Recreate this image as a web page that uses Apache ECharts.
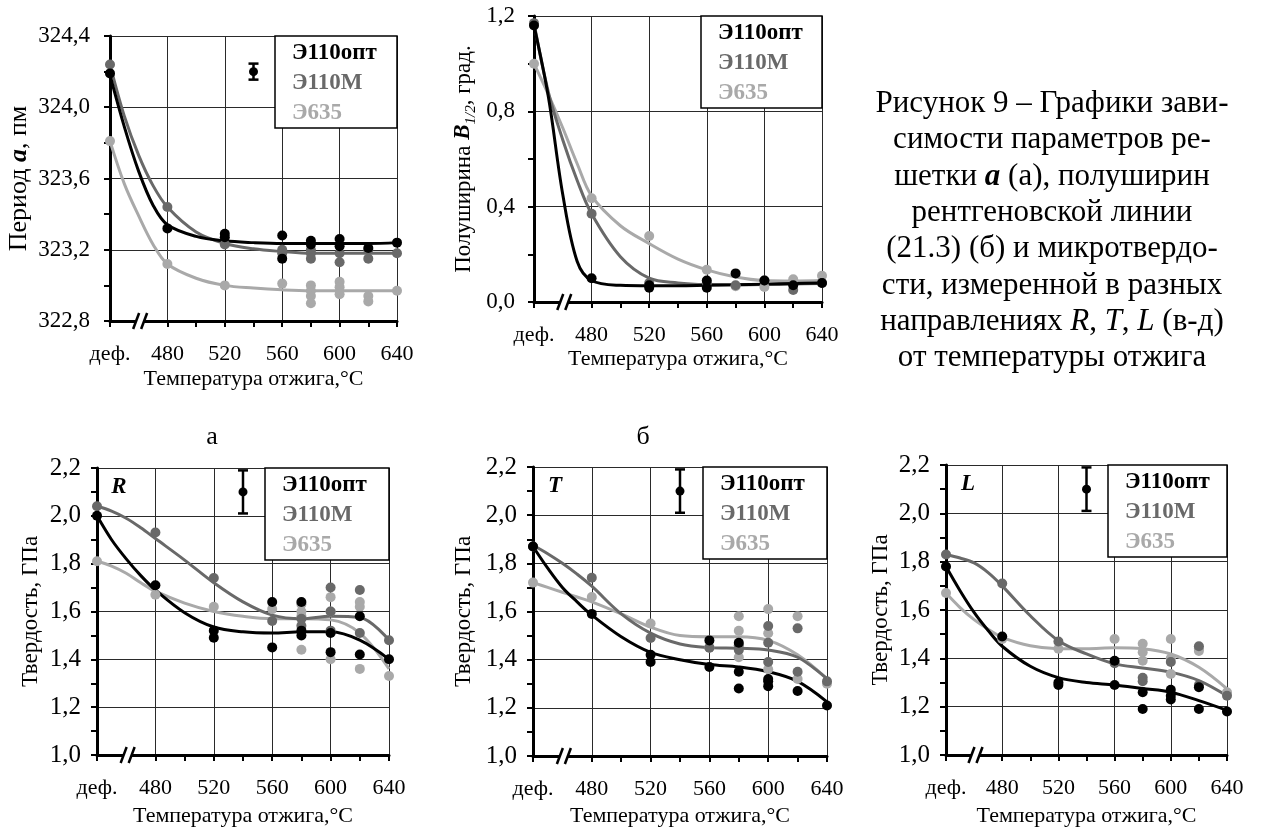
<!DOCTYPE html>
<html><head><meta charset="utf-8">
<script src="https://cdn.jsdelivr.net/npm/echarts@6/dist/echarts.min.js"></script>
<style>html,body{margin:0;padding:0;background:#fff}#c{width:1262px;height:828px}</style>
</head><body><div id="c"></div>
<script>
// ---------------- DATA ----------------
const seriesNames = ['Э110опт', 'Э110М', 'Э635'];
const xTickLabels = ['деф.', '480', '520', '560', '600', '640'];
const xCurve = [440, 450, 460, 470, 480, 500, 520, 540, 560, 580, 600, 620, 640];

// (а) lattice period a, pm
const aPtsBlack = [[440,324.19],[480,323.32],[520,323.29],[520,323.27],[560,323.28],[560,323.15],[580,323.25],[580,323.23],[600,323.26],[600,323.22],[620,323.21],[640,323.24]];
const aPtsGrey = [[440,324.24],[480,323.44],[520,323.23],[560,323.20],[560,323.18],[580,323.20],[580,323.18],[580,323.15],[600,323.18],[600,323.13],[620,323.20],[620,323.15],[640,323.18]];
const aPtsLight = [[440,323.81],[480,323.12],[520,323.00],[560,323.01],[580,323.00],[580,322.97],[580,322.94],[580,322.90],[600,323.02],[600,322.99],[600,322.95],[620,322.94],[620,322.91],[640,322.97]];
const aCurveBlack = [324.18,323.89,323.64,323.45,323.34,323.275,323.25,323.24,323.235,323.235,323.235,323.235,323.24];
const aCurveGrey = [324.24,323.95,323.73,323.56,323.44,323.30,323.235,323.205,323.19,323.18,323.18,323.18,323.18];
const aCurveLight = [323.81,323.57,323.39,323.23,323.12,323.04,323.00,322.985,322.975,322.97,322.97,322.97,322.97];
const aErr = [[540, 324.2, 0.045]];

// (б) half-width B1/2, deg
const bPtsBlack = [[440,1.16],[480,0.10],[520,0.07],[520,0.06],[560,0.09],[560,0.06],[580,0.12],[600,0.09],[620,0.07],[640,0.08]];
const bPtsGrey = [[440,1.17],[480,0.37],[520,0.08],[560,0.08],[580,0.07],[600,0.09],[620,0.05],[640,0.08]];
const bPtsLight = [[440,1.00],[480,0.435],[520,0.277],[560,0.135],[580,0.066],[600,0.063],[620,0.095],[640,0.11]];
const bCurveBlack = [1.16,0.86,0.45,0.17,0.09,0.07,0.068,0.068,0.07,0.072,0.075,0.078,0.08];
const bCurveGrey = [1.17,0.88,0.68,0.51,0.37,0.19,0.10,0.08,0.073,0.072,0.073,0.075,0.078];
const bCurveLight = [1.00,0.87,0.73,0.58,0.445,0.32,0.245,0.18,0.135,0.105,0.09,0.088,0.09];

// (в) hardness R
const rPtsBlack = [[440,2.00],[480,1.71],[520,1.52],[520,1.49],[560,1.64],[560,1.45],[580,1.64],[580,1.52],[580,1.50],[600,1.51],[600,1.43],[620,1.58],[620,1.42],[640,1.40]];
const rPtsGrey = [[440,2.04],[480,1.93],[520,1.74],[560,1.56],[580,1.57],[580,1.54],[600,1.70],[600,1.60],[600,1.52],[620,1.69],[620,1.51],[640,1.48]];
const rPtsLight = [[440,1.81],[480,1.67],[520,1.62],[560,1.61],[580,1.63],[580,1.60],[580,1.58],[580,1.44],[600,1.66],[600,1.60],[600,1.40],[620,1.64],[620,1.62],[620,1.36],[640,1.33]];
const rCurveBlack = [2.00,1.90,1.82,1.75,1.69,1.595,1.535,1.515,1.51,1.515,1.515,1.48,1.40];
const rCurveGrey = [2.04,2.02,1.99,1.95,1.905,1.815,1.72,1.64,1.585,1.57,1.58,1.575,1.48];
const rCurveLight = [1.81,1.79,1.76,1.72,1.685,1.635,1.60,1.58,1.57,1.57,1.565,1.51,1.36];

// (г) hardness T
const tPtsBlack = [[440,1.87],[480,1.59],[520,1.42],[520,1.39],[560,1.48],[560,1.37],[580,1.47],[580,1.35],[580,1.28],[600,1.32],[600,1.31],[600,1.29],[620,1.27],[640,1.21]];
const tPtsGrey = [[440,1.87],[480,1.74],[520,1.49],[560,1.45],[580,1.46],[580,1.44],[600,1.54],[600,1.47],[600,1.39],[620,1.53],[620,1.35],[640,1.31]];
const tPtsLight = [[440,1.72],[480,1.66],[520,1.55],[560,1.45],[580,1.58],[580,1.52],[580,1.41],[600,1.61],[600,1.51],[600,1.36],[620,1.58],[620,1.32],[640,1.30]];
const tCurveBlack = [1.87,1.78,1.70,1.64,1.585,1.495,1.43,1.40,1.38,1.37,1.35,1.31,1.225];
const tCurveGrey = [1.875,1.84,1.80,1.755,1.705,1.59,1.51,1.465,1.45,1.447,1.44,1.41,1.32];
const tCurveLight = [1.72,1.70,1.68,1.66,1.64,1.59,1.535,1.50,1.495,1.495,1.48,1.42,1.32];

// (д) hardness L
const lPtsBlack = [[440,1.78],[480,1.49],[520,1.30],[520,1.29],[560,1.39],[560,1.29],[580,1.26],[580,1.19],[600,1.27],[600,1.245],[600,1.23],[620,1.28],[620,1.19],[640,1.18]];
const lPtsGrey = [[440,1.83],[480,1.71],[520,1.47],[560,1.38],[580,1.32],[580,1.305],[600,1.385],[620,1.45],[620,1.29],[640,1.245]];
const lPtsLight = [[440,1.67],[480,1.48],[520,1.44],[560,1.48],[580,1.46],[580,1.425],[580,1.39],[600,1.48],[600,1.40],[600,1.335],[620,1.44],[620,1.43],[640,1.26]];
const lCurveBlack = [1.78,1.68,1.59,1.515,1.45,1.367,1.32,1.30,1.29,1.275,1.26,1.225,1.185];
const lCurveGrey = [1.83,1.815,1.795,1.755,1.70,1.576,1.473,1.418,1.377,1.36,1.343,1.308,1.245];
const lCurveLight = [1.67,1.61,1.56,1.52,1.487,1.452,1.44,1.44,1.444,1.44,1.418,1.363,1.274];

const hardErr = [[540, 2.1, 0.09]];

const captionLines = [
  'Рисунок 9 – Графики зави-',
  'симости параметров ре-',
  'шетки {bi|a} (а), полуширин',
  'рентгеновской линии',
  '(21.3) (б) и микротвердо-',
  'сти, измеренной в разных',
  'направлениях {i|R}, {i|T}, {i|L} (в-д)',
  'от температуры отжига'
];

// ---------------- LAYOUT / STYLE ----------------
const FONT = '"Liberation Serif", "Times New Roman", serif';
const COLORS = ['#000000', '#696969', '#a9a9a9'];
const panels = [
  {left:110, top:36, width:287, height:285, ymin:322.8, ymax:324.4, yint:0.4, yFont:23, yMargin:20, yGap:78, yNameSize:26, xGap:47,
   yName:'{n|Период }{b|a}{n|, пм}', pts:[aPtsBlack,aPtsGrey,aPtsLight], curves:[aCurveBlack,aCurveGrey,aCurveLight], err:aErr, legW:122, tag:null},
  {left:534, top:16, width:288, height:286, ymin:0, ymax:1.2, yint:0.4, yFont:23, yMargin:19, yGap:59, yNameSize:23, xGap:46,
   yName:'{n|Полуширина }{b|B}{s|1/2}{n|, град.}', pts:[bPtsBlack,bPtsGrey,bPtsLight], curves:[bCurveBlack,bCurveGrey,bCurveLight], err:null, legW:121, tag:null},
  {left:97, top:468, width:292, height:287, ymin:1.0, ymax:2.2, yint:0.2, yFont:25, yMargin:16, yGap:55, yNameSize:23, xGap:50,
   yName:'{n|Твердость, ГПа}', pts:[rPtsBlack,rPtsGrey,rPtsLight], curves:[rCurveBlack,rCurveGrey,rCurveLight], err:hardErr, legW:124, tag:'R'},
  {left:533, top:467, width:294, height:289, ymin:1.0, ymax:2.2, yint:0.2, yFont:25, yMargin:16, yGap:58, yNameSize:23, xGap:49,
   yName:'{n|Твердость, ГПа}', pts:[tPtsBlack,tPtsGrey,tPtsLight], curves:[tCurveBlack,tCurveGrey,tCurveLight], err:hardErr, legW:124, tag:'T'},
  {left:946, top:465, width:281, height:291, ymin:1.0, ymax:2.2, yint:0.2, yFont:25, yMargin:16, yGap:54, yNameSize:23, xGap:50,
   yName:'{n|Твердость, ГПа}', pts:[lPtsBlack,lPtsGrey,lPtsLight], curves:[lCurveBlack,lCurveGrey,lCurveLight], err:hardErr, legW:119, tag:'L'}
];
const BREAK_X = 461;

const chart = echarts.init(document.getElementById('c'), null, {renderer:'canvas'});

const grids = [], xAxes = [], yAxes = [], series = [], graphics = [];

function breakRender(params, api) {
  const p = api.coord([api.value(0), api.value(1)]);
  const x = p[0], y = p[1];
  return {type:'group', children:[
    {type:'polygon', shape:{points:[[x-7,y+8],[x-1,y-8],[x+7,y-8],[x+1,y+8]]}, style:{fill:'#fff'}},
    {type:'line', shape:{x1:x-7,y1:y+8,x2:x-1,y2:y-8}, style:{stroke:'#000', lineWidth:2.5}},
    {type:'line', shape:{x1:x+1,y1:y+8,x2:x+7,y2:y-8}, style:{stroke:'#000', lineWidth:2.5}}
  ]};
}
function errRender(params, api) {
  const c = api.coord([api.value(0), api.value(1)]);
  const t = api.coord([api.value(0), api.value(1) + api.value(2)]);
  const b = api.coord([api.value(0), api.value(1) - api.value(2)]);
  const st = {stroke:'#000', lineWidth:2.5};
  return {type:'group', children:[
    {type:'line', shape:{x1:c[0],y1:t[1],x2:c[0],y2:b[1]}, style:st},
    {type:'line', shape:{x1:c[0]-5,y1:t[1],x2:c[0]+5,y2:t[1]}, style:st},
    {type:'line', shape:{x1:c[0]-5,y1:b[1],x2:c[0]+5,y2:b[1]}, style:st},
    {type:'circle', shape:{cx:c[0],cy:c[1],r:4.5}, style:{fill:'#000'}}
  ]};
}

panels.forEach((p, i) => {
  grids.push({left:p.left, top:p.top, width:p.width, height:p.height, containLabel:false});
  xAxes.push({
    type:'value', gridIndex:i, min:440, max:640, interval:40,
    axisLine:{show:true, onZero:false, lineStyle:{color:'#000', width:3}},
    axisTick:{show:true, inside:false, length:6, lineStyle:{color:'#000', width:2}},
    minorTick:{show:true, splitNumber:2, length:6, lineStyle:{color:'#000', width:2}},
    splitLine:{show:true, lineStyle:{color:'#2a2a2a', width:1}},
    axisLabel:{formatter:v => xTickLabels[Math.round((v - 440) / 40)], fontFamily:FONT, fontSize:22, color:'#000', margin:22},
    name:'Температура отжига,°C', nameLocation:'middle', nameGap:p.xGap,
    nameTextStyle:{fontFamily:FONT, fontSize:22, color:'#000'}
  });
  const ns = p.yNameSize;
  yAxes.push({
    type:'value', gridIndex:i, min:p.ymin, max:p.ymax, interval:p.yint,
    axisLine:{show:true, onZero:false, lineStyle:{color:'#000', width:3}},
    axisTick:{show:true, inside:false, length:6, lineStyle:{color:'#000', width:2}},
    minorTick:{show:true, splitNumber:2, length:6, lineStyle:{color:'#000', width:2}},
    splitLine:{show:true, lineStyle:{color:'#2a2a2a', width:1}},
    axisLabel:{formatter:v => v.toFixed(1).replace('.', ','), fontFamily:FONT, fontSize:p.yFont, color:'#000', margin:p.yMargin},
    name:p.yName, nameLocation:'middle', nameGap:p.yGap,
    nameTextStyle:{fontFamily:FONT, fontSize:ns, color:'#000',
      rich:{
        n:{fontFamily:FONT, fontSize:ns, color:'#000', lineHeight:28, verticalAlign:'bottom'},
        b:{fontFamily:FONT, fontSize:ns, fontWeight:'bold', fontStyle:'italic', color:'#000', lineHeight:28, verticalAlign:'bottom'},
        s:{fontFamily:FONT, fontSize:15, fontStyle:'italic', color:'#000', lineHeight:28, verticalAlign:'bottom', padding:[0,0,-4,0]}
      }}
  });
  // curves (light first, black on top)
  [2, 1, 0].forEach(k => {
    series.push({
      type:'line', name:seriesNames[k], xAxisIndex:i, yAxisIndex:i,
      data:xCurve.map((x, j) => [x, p.curves[k][j]]),
      smooth:0.35, showSymbol:false, symbol:'none', silent:true,
      lineStyle:{color:COLORS[k], width:3}, z:2
    });
  });
  [2, 1, 0].forEach(k => {
    series.push({
      type:'scatter', name:seriesNames[k], xAxisIndex:i, yAxisIndex:i,
      data:p.pts[k], symbol:'circle', symbolSize:10, silent:true,
      itemStyle:{color:COLORS[k], opacity:1}, z:3
    });
  });
  series.push({type:'custom', xAxisIndex:i, yAxisIndex:i, data:[[BREAK_X, p.ymin]], renderItem:breakRender, clip:false, silent:true, z:5});
  if (p.err) series.push({type:'custom', xAxisIndex:i, yAxisIndex:i, data:p.err, renderItem:errRender, clip:false, silent:true, z:5});

  // legend box
  const lx = p.left + p.width - p.legW, ly = p.top;
  graphics.push({type:'rect', z:100, shape:{x:lx, y:ly, width:p.legW, height:92}, style:{fill:'#fff', stroke:'#000', lineWidth:1.5}});
  seriesNames.forEach((nm, k) => {
    graphics.push({type:'text', z:101, x:lx + 17, y:ly + 17 + k * 30,
      style:{text:nm, font:'bold 23px ' + FONT, fill:COLORS[k], textVerticalAlign:'middle', textAlign:'left'}});
  });
  if (p.tag) {
    graphics.push({type:'text', z:101, x:p.left + 22, y:p.top + 19,
      style:{text:p.tag, font:'italic bold 23px ' + FONT, fill:'#000', textVerticalAlign:'middle', textAlign:'center'}});
  }
});

// panel letters
graphics.push({type:'text', z:101, x:212, y:437, style:{text:'а', font:'26px ' + FONT, fill:'#000', textAlign:'center', textVerticalAlign:'middle'}});
graphics.push({type:'text', z:101, x:643, y:437, style:{text:'б', font:'26px ' + FONT, fill:'#000', textAlign:'center', textVerticalAlign:'middle'}});

// caption
captionLines.forEach((ln, k) => {
  graphics.push({type:'text', z:101, x:1052, y:104 + k * 36.3,
    style:{text:ln, font:'31px ' + FONT, fill:'#000', textAlign:'center', textVerticalAlign:'middle',
      rich:{bi:{font:'italic bold 31px ' + FONT, fill:'#000'}, i:{font:'italic 31px ' + FONT, fill:'#000'}}}});
});

chart.setOption({
  animation:false,
  backgroundColor:'#fff',
  grid:grids, xAxis:xAxes, yAxis:yAxes, series:series, graphic:graphics
});
</script>
</body></html>
